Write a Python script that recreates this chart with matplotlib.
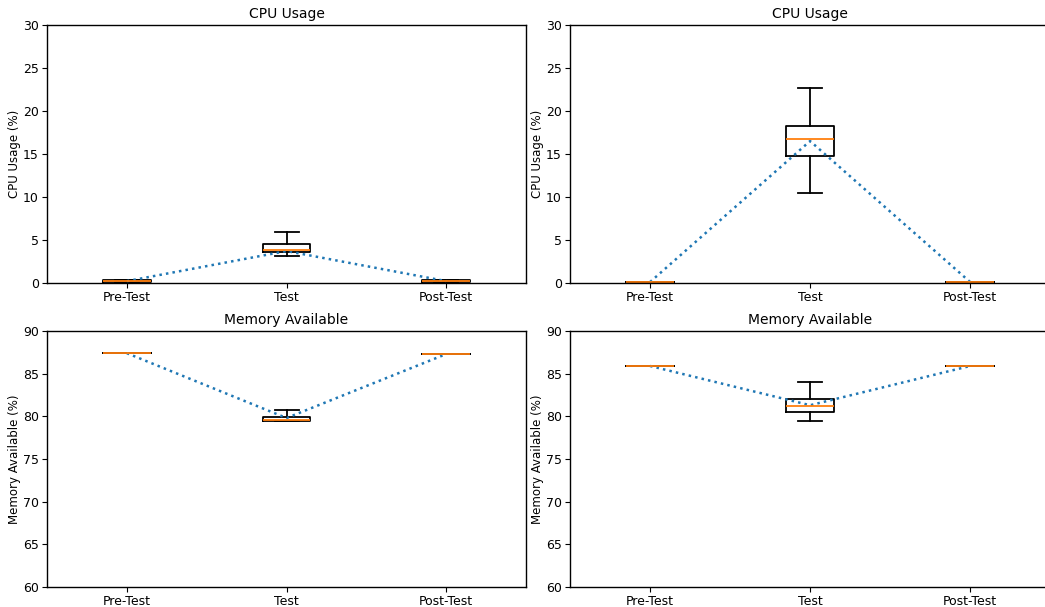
import matplotlib
matplotlib.use("Agg")
from matplotlib import pyplot as plt

phases = ["Pre-Test", "Test", "Post-Test"]

# left column: cpu usage (%)
cpu_a_low = [0.15, 3.1, 0.15]
cpu_a_q1 = [0.15, 3.6, 0.15]
cpu_a_med = [0.2, 3.8, 0.2]
cpu_a_q3 = [0.3, 4.5, 0.3]
cpu_a_high = [0.3, 5.9, 0.3]
cpu_a_mean = [0.2, 3.7, 0.2]

# right column: cpu usage (%)
cpu_b_low = [0.05, 10.4, 0.05]
cpu_b_q1 = [0.05, 14.8, 0.05]
cpu_b_med = [0.1, 16.7, 0.1]
cpu_b_q3 = [0.15, 18.3, 0.15]
cpu_b_high = [0.15, 22.7, 0.15]
cpu_b_mean = [0.1, 16.5, 0.1]

# left column: memory available (%)
mem_a_low = [87.4, 79.4, 87.3]
mem_a_q1 = [87.4, 79.45, 87.3]
mem_a_med = [87.4, 79.6, 87.3]
mem_a_q3 = [87.4, 79.9, 87.3]
mem_a_high = [87.4, 80.7, 87.3]
mem_a_mean = [87.4, 79.8, 87.3]

# right column: memory available (%)
mem_b_low = [85.9, 79.5, 85.9]
mem_b_q1 = [85.9, 80.5, 85.9]
mem_b_med = [85.9, 81.2, 85.9]
mem_b_q3 = [85.9, 82.0, 85.9]
mem_b_high = [85.9, 84.0, 85.9]
mem_b_mean = [85.9, 81.3, 85.9]


def make_stats(low, q1, med, q3, high):
    stats = []
    for i in range(len(phases)):
        stats.append({"whislo": low[i], "q1": q1[i], "med": med[i], "q3": q3[i],
                      "whishi": high[i], "fliers": [], "label": phases[i]})
    return stats


def draw(ax, stats, means, title, ylabel, ylim):
    lw = 1.3
    ax.bxp(stats, positions=[1, 2, 3], widths=0.3, showfliers=False,
           boxprops={"linewidth": lw}, whiskerprops={"linewidth": lw},
           capprops={"linewidth": lw}, medianprops={"color": "C1", "linewidth": lw})
    ax.plot([1, 2, 3], means, linestyle=":", color="C0", linewidth=1.8)
    ax.set_xlim(0.5, 3.5)
    ax.set_ylim(*ylim)
    ax.set_title(title, fontsize=10, pad=5)
    ax.set_ylabel(ylabel, fontsize=8.5, labelpad=1)
    ax.tick_params(labelsize=9, pad=2.5)
    for sp in ax.spines.values():
        sp.set_linewidth(1.0)


fig = plt.figure(figsize=(10.45, 6.07), dpi=100)
ax1 = fig.add_axes([0.045, 0.534, 0.4584, 0.4248])
ax2 = fig.add_axes([0.5455, 0.534, 0.4594, 0.4248])
ax3 = fig.add_axes([0.045, 0.033, 0.4584, 0.4217])
ax4 = fig.add_axes([0.5455, 0.033, 0.4594, 0.4217])

draw(ax1, make_stats(cpu_a_low, cpu_a_q1, cpu_a_med, cpu_a_q3, cpu_a_high), cpu_a_mean,
     "CPU Usage", "CPU Usage (%)", (0, 30))
draw(ax2, make_stats(cpu_b_low, cpu_b_q1, cpu_b_med, cpu_b_q3, cpu_b_high), cpu_b_mean,
     "CPU Usage", "CPU Usage (%)", (0, 30))
draw(ax3, make_stats(mem_a_low, mem_a_q1, mem_a_med, mem_a_q3, mem_a_high), mem_a_mean,
     "Memory Available", "Memory Available (%)", (60, 90))
draw(ax4, make_stats(mem_b_low, mem_b_q1, mem_b_med, mem_b_q3, mem_b_high), mem_b_mean,
     "Memory Available", "Memory Available (%)", (60, 90))

fig.savefig("out.png", dpi=100)
